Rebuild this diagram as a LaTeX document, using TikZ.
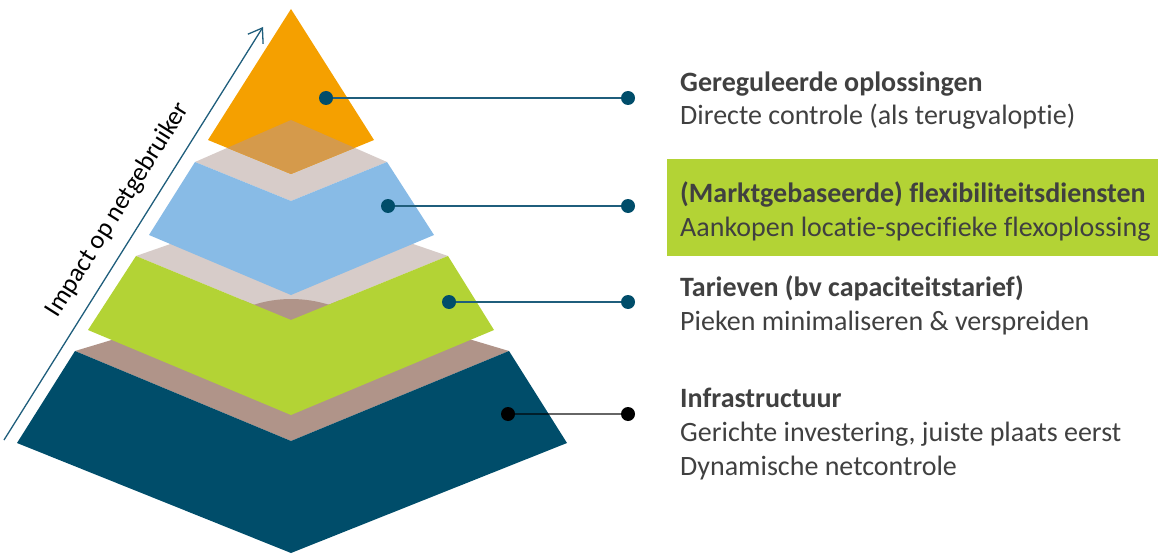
\documentclass[tikz,border=0pt]{standalone}
\usepackage{fontspec}
\setmainfont{Carlito}[Ligatures={NoCommon}]
\usetikzlibrary{arrows.meta}
\definecolor{orng}{HTML}{F5A000}
\definecolor{ovl}{HTML}{D59A4B}
\definecolor{beige}{HTML}{D7CCC9}
\definecolor{lblue}{HTML}{88BBE6}
\definecolor{lgreen}{HTML}{B3D335}
\definecolor{brwn}{HTML}{B09489}
\definecolor{dblue}{HTML}{004D6A}
\definecolor{dotc}{HTML}{004D6A}
\definecolor{linec}{HTML}{1F5E7C}
\definecolor{txt}{HTML}{404040}
\begin{document}
\begin{tikzpicture}[x=1pt,y=-1pt,
  dot/.style={circle,fill=dotc,inner sep=0pt,minimum size=14pt},
  blackdot/.style={circle,fill=black,inner sep=0pt,minimum size=14pt},
  conn/.style={draw=linec,line width=1.3pt},
  bconn/.style={draw=black,draw opacity=0.6,line width=1.6pt},
  head/.style={font=\fontsize{28}{34}\selectfont\bfseries,text=txt,anchor=base west,inner sep=0pt},
  body/.style={font=\fontsize{28}{34}\selectfont,text=txt,anchor=base west,inner sep=0pt},
  impact/.style={draw=linec,line width=1.3pt,-{Straight Barb[length=13pt,width=18pt,line width=1.3pt]}}]
\useasboundingbox (0,0) rectangle (1158,556);

% bottom layer (dark blue)
\fill[brwn] (75,351) -- (291,286) -- (509,351) -- (291,441) -- cycle;
\fill[dblue] (75,351) -- (291,441) -- (509,351) -- (567,443) -- (291,553) -- (17,443) -- cycle;

% green layer
\fill[beige] (136,256) -- (291,202) -- (448,256) -- (291,320) -- cycle;
\fill[brwn] (253,305) .. controls (278,297) and (304,297) .. (330,305) -- (291,321) -- cycle;
\fill[lgreen] (136,256) -- (291,320) -- (448,256) -- (494,330) -- (291,415) -- (88,330) -- cycle;

% blue layer
\fill[beige] (195,162) -- (291,120) -- (387,162) -- (291,201) -- cycle;
\fill[lblue] (195,162) -- (291,201) -- (387,162) -- (434,235) -- (291,295) -- (149,235) -- cycle;

% top (orange)
\fill[orng] (291,9) -- (208,140) -- (291,174) -- (374,140) -- cycle;
\begin{scope}
  \clip (195,162) -- (291,120) -- (387,162) -- (291,201) -- cycle;
  \fill[ovl] (291,9) -- (208,140) -- (291,174) -- (374,140) -- cycle;
\end{scope}

% impact arrow
\coordinate (ast) at (4,440);
\coordinate (aend) at (263,27);
\draw[impact] (ast) -- (aend);
\node[font=\fontsize{26}{30}\selectfont,text=black,rotate=57.9,inner sep=0pt] (imp) at (118,210) {Impact op netgebruiker};

% highlight box
\fill[lgreen] (667,159) rectangle (1158,256);

% dots and connectors
\node[dot] (l1) at (326,98) {};
\node[dot] (r1) at (628,98) {};
\node[dot] (l2) at (388,206) {};
\node[dot] (r2) at (628,206) {};
\node[dot] (l3) at (449,302) {};
\node[dot] (r3) at (628,302) {};
\node[blackdot] (l4) at (508,414) {};
\node[blackdot] (r4) at (628,414) {};
\draw[conn] (l1) -- (r1);
\draw[conn] (l2) -- (r2);
\draw[conn] (l3) -- (r3);
\draw[bconn] (l4) -- (r4);

% labels
\node[head] (t1) at (680,92) {Gereguleerde oplossingen};
\node[body] (t1b) at (680,125) {Directe controle (als terugvaloptie)};
\node[head] (t2) at (680,202) {(Marktgebaseerde) flexibiliteitsdiensten};
\node[body] (t2b) at (680,236) {Aankopen locatie-specifieke flexoplossing};
\node[head] (t3) at (680,296) {Tarieven (bv capaciteitstarief)};
\node[body] (t3b) at (680,330) {Pieken minimaliseren \& verspreiden};
\node[head] (t4) at (680,407) {Infrastructuur};
\node[body] (t4b) at (680,441) {Gerichte investering, juiste plaats eerst};
\node[body] (t4c) at (680,475) {Dynamische netcontrole};
\end{tikzpicture}
\end{document}
